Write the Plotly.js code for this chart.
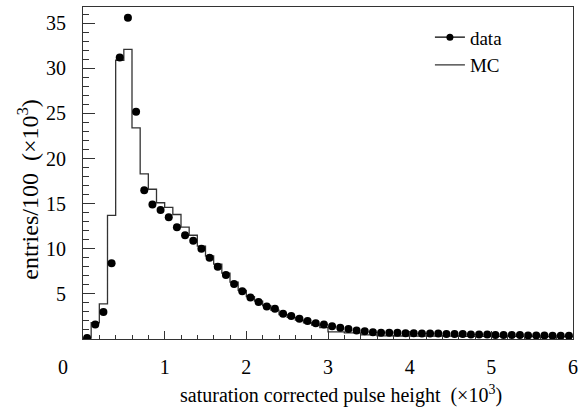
<!DOCTYPE html>
<html>
<head>
<meta charset="utf-8">
<script src="https://cdn.plot.ly/plotly-3.0.1.min.js"></script>
<style>html,body{margin:0;padding:0;background:#fff;}#chart{width:581px;height:409px;}</style>
</head>
<body>
<div id="chart"></div>
<script>
// bin centers for data points (x10^3)
const dataX = [0.05,0.15,0.25,0.35,0.45,0.55,0.65,0.75,0.85,0.95,
  1.05,1.15,1.25,1.35,1.45,1.55,1.65,1.75,1.85,1.95,
  2.05,2.15,2.25,2.35,2.45,2.55,2.65,2.75,2.85,2.95,
  3.05,3.15,3.25,3.35,3.45,3.55,3.65,3.75,3.85,3.95,
  4.05,4.15,4.25,4.35,4.45,4.55,4.65,4.75,4.85,4.95,
  5.05,5.15,5.25,5.35,5.45,5.55,5.65,5.75,5.85,5.95];
// data entries/100 (x10^3)
const dataY = [0.1,1.6,3.0,8.4,31.2,35.6,25.2,16.5,14.9,14.3,
  13.5,12.4,11.5,10.9,10.0,9.0,8.0,7.1,6.1,5.3,
  4.6,4.1,3.6,3.35,2.8,2.55,2.25,2.0,1.75,1.6,
  1.4,1.25,1.1,0.95,0.85,0.75,0.7,0.7,0.7,0.65,
  0.65,0.6,0.6,0.6,0.55,0.55,0.55,0.5,0.5,0.5,
  0.45,0.45,0.45,0.45,0.4,0.4,0.4,0.35,0.35,0.35];
// MC histogram bin low edges and contents
const mcEdges = [0.0,0.1,0.2,0.3,0.4,0.5,0.6,0.7,0.8,0.9,
  1.0,1.1,1.2,1.3,1.4,1.5,1.6,1.7,1.8,1.9,
  2.0,2.1,2.2,2.3,2.4,2.5,2.6,2.7,2.8,2.9,
  3.0,3.1,3.2,3.3,3.4,3.5,3.6,3.7,3.8,3.9,
  4.0,4.1,4.2,4.3,4.4,4.5,4.6,4.7,4.8,4.9,
  5.0,5.1,5.2,5.3,5.4,5.5,5.6,5.7,5.8,5.9,6.0];
const mcY = [0.1,1.8,3.9,13.7,30.9,32.1,23.4,18.3,16.6,15.1,
  14.6,13.8,12.4,11.5,10.3,9.2,8.3,7.3,6.3,5.4,
  4.7,4.2,3.7,3.2,2.7,2.4,2.1,1.8,1.55,1.25,
  0.8,0.8,0.68,0.68,0.46,0.46,0.34,0.34,0.33,0.33,
  0.32,0.32,0.32,0.31,0.31,0.31,0.3,0.3,0.3,0.3,
  0.29,0.29,0.29,0.28,0.28,0.28,0.27,0.27,0.27,0.27];
const xTickVals = [0,1,2,3,4,5,6];
const xTickText = ['0\u00a0\u00a0\u00a0\u00a0\u00a0\u00a0\u00a0\u00a0','1','2','3','4','5','6'];
const yTickVals = [5,10,15,20,25,30,35];
const yTickText = ['5','10','15','20','25','30','35'];
const xTitle = 'saturation corrected pulse height  (\u00d710<sup>3</sup>)';
const yTitle = 'entries/100  (\u00d710<sup>3</sup>)';

// histogram steps: repeat last content at the upper edge
const mcStepY = mcY.concat([mcY[mcY.length-1]]);

const FAM = 'Liberation Serif, Times New Roman, serif';
function f(size) { return {family: FAM, size: size, color: '#000'}; }

const traces = [
  {x: mcEdges, y: mcStepY, type: 'scatter', mode: 'lines', line: {shape: 'hv', color: '#333', width: 1.3},
   name: 'MC', showlegend: false},
  {x: dataX, y: dataY, type: 'scatter', mode: 'markers', marker: {color: '#000', size: 8},
   name: 'data', showlegend: false},
  {x: [null], y: [null], type: 'scatter', mode: 'lines+markers', marker: {color: '#000', size: 7},
   line: {color: '#000', width: 1.3}, name: 'data'},
  {x: [null], y: [null], type: 'scatter', mode: 'lines', line: {color: '#333', width: 1.3}, name: 'MC'}
];

const layout = {
  width: 581, height: 409,
  margin: {l: 83, r: 8, t: 7, b: 70},
  paper_bgcolor: '#fff', plot_bgcolor: '#fff',
  font: f(19),
  showlegend: true,
  legend: {x: 0.708, y: 0.966, xanchor: 'left', yanchor: 'top', bgcolor: 'rgba(0,0,0,0)',
    font: f(19), tracegroupgap: 0, itemwidth: 30},
  xaxis: {
    range: [0, 6], showgrid: false, zeroline: false,
    showline: true, linecolor: '#333', linewidth: 1, mirror: true,
    ticks: 'inside', ticklen: 8, tickcolor: '#333', tickwidth: 1,
    tickmode: 'array', tickvals: xTickVals, ticktext: xTickText,
    ticklabelstandoff: 10,
    tickfont: f(20),
    minor: {dtick: 0.2, ticks: 'inside', ticklen: 4, tickcolor: '#333', showgrid: false}
  },
  yaxis: {
    range: [0, 36.8], showgrid: false, zeroline: false,
    showline: true, linecolor: '#333', linewidth: 1, mirror: true,
    ticks: 'inside', ticklen: 12, tickcolor: '#333', tickwidth: 1,
    tickmode: 'array', tickvals: yTickVals, ticktext: yTickText,
    ticklabelstandoff: 12,
    tickfont: f(20),
    minor: {dtick: 1, ticks: 'inside', ticklen: 6, tickcolor: '#333', showgrid: false}
  },
  annotations: [
    {text: xTitle, xref: 'paper', yref: 'paper', x: 0.527, y: -0.167, xanchor: 'center', yanchor: 'middle',
     showarrow: false, font: f(20)},
    {text: yTitle, xref: 'paper', yref: 'paper', x: -0.114, y: 0.45, xanchor: 'center', yanchor: 'middle',
     textangle: -90, showarrow: false, font: f(24)}
  ]
};

Plotly.newPlot('chart', traces, layout, {displayModeBar: false, staticPlot: true});
</script>
</body>
</html>
